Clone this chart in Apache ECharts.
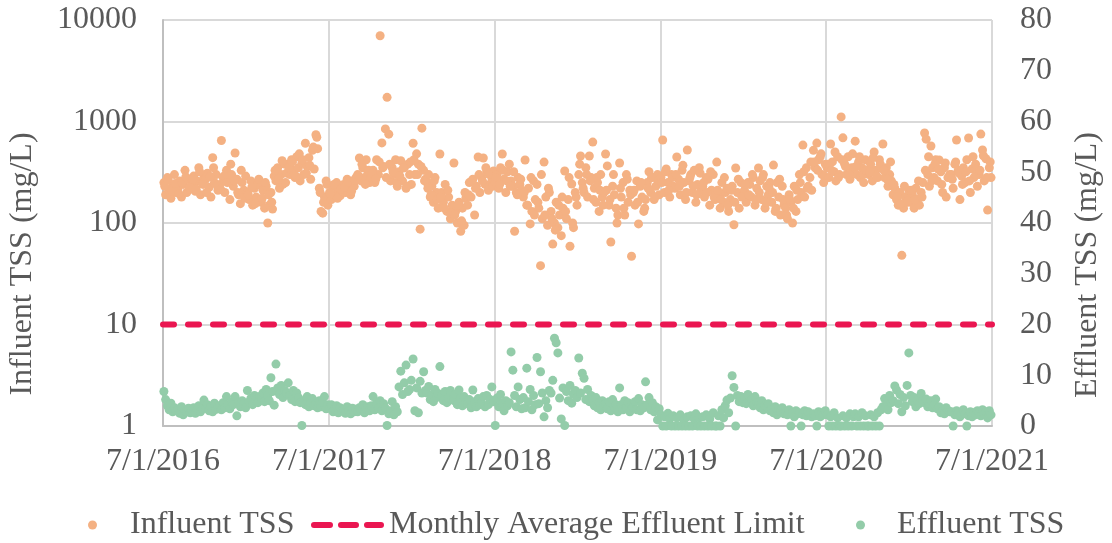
<!DOCTYPE html>
<html><head><meta charset="utf-8">
<script src="https://cdn.jsdelivr.net/npm/echarts@6/dist/echarts.min.js"></script>
<style>html,body{margin:0;padding:0;background:#fff}#c{width:1112px;height:543px}</style>
</head><body><div id="c"></div>
<script>
// ---------- tick labels ----------
const xTickLabels = ['7/1/2016','7/1/2017','7/1/2018','7/1/2019','7/1/2020','7/1/2021'];
const limitValue = 20; // mg/L (right axis)

// ---------- Influent TSS (mg/L), 8 readings per month, Jul..Jun ----------
const influent2016 = [
 250,190,280,210,175,230,300,200, 220,260,180,240,330,200,270,215,
 235,290,205,260,350,190,245,280, 270,310,225,180,440,250,300,210,
 240,650,280,200,330,260,170,300, 230,490,270,190,155,250,210,290,
 200,170,260,150,220,180,240,165, 160,210,140,230,100,150,200,137,
 290,260,350,220,300,240,380,310, 380,300,420,330,280,450,350,260,
 390,300,610,360,440,270,520,340, 740,540,220,130,125,180,260,150];
const influent2017 = [
 200,170,230,190,250,210,185,220, 240,200,270,215,190,260,230,280,
 300,437,260,350,280,420,320,250, 280,330,250,420,300,7000,615,360,
 845,1730,750,260,350,300,420,230, 320,410,260,350,220,380,300,240,
 610,300,480,380,87,860,330,270, 250,300,180,230,160,280,200,140,
 478,200,160,240,130,180,110,150, 390,130,100,160,83,140,95,176,
 150,250,180,270,120,230,447,200, 280,437,240,320,210,300,260,325];
const influent2018 = [
 250,300,220,350,478,270,200,320, 380,260,230,83,200,280,240,210,
 180,418,150,220,98,130,260,170, 240,140,38,110,398,180,95,200,
 130,62,100,160,90,120,75,140, 325,110,170,59,242,90,200,150,
 300,457,250,200,350,180,457,280, 627,220,160,250,130,300,180,200,
 478,365,150,65,230,190,140,120, 390,180,250,120,300,160,210,47,
 200,150,260,98,230,180,130,170, 250,320,200,280,170,230,300,190];
const influent2019 = [
 280,658,200,340,250,180,300,230, 220,447,270,190,330,250,170,524,
 260,300,200,330,160,240,350,210, 230,180,280,270,150,210,300,170,
 398,190,140,250,160,200,220,130, 170,230,96,348,200,140,250,190,
 210,160,250,240,180,280,150,220, 348,260,170,300,140,230,190,250,
 160,372,130,250,180,120,230,150, 140,110,190,160,100,230,130,170,
 300,200,586,180,350,230,280,210, 520,350,613,420,450,300,250,380];
const influent2020 = [
 350,280,600,400,320,260,450,300, 1110,690,380,300,450,270,350,330,
 640,300,400,280,350,250,420,310, 300,380,260,500,330,280,420,350,
 600,280,350,230,300,260,190,220, 170,150,200,48,140,180,160,210,
 160,190,140,220,170,150,200,250, 770,670,300,230,573,350,280,420,
 260,418,320,200,350,180,280,300, 300,220,380,658,330,170,290,350,
 250,420,688,200,340,280,380,230, 300,752,524,260,430,134,350,280];

// ---------- additional Influent TSS readings, 4 per month, Jul..Jun ----------
const influentB2016 = [230,265,205,245, 195,250,285,225, 270,215,320,240, 200,285,350,235,
 215,290,250,380, 260,200,330,175, 190,225,155,270, 175,250,190,160,
 330,270,410,250, 350,400,290,480, 420,310,370,560, 700,200,160,240];
const influentB2017 = [195,240,175,215, 225,255,205,265, 290,380,240,330, 310,270,400,350,
 280,380,320,250, 290,350,230,400, 420,300,360,260, 220,190,260,170,
 180,140,210,125, 120,150,105,200, 190,260,220,300, 260,350,300,230];
const influentB2018 = [280,240,330,260, 230,320,190,270, 200,150,280,120, 160,300,120,220,
 110,85,150,180, 130,280,100,180, 380,220,300,260, 170,280,210,150,
 210,170,300,100, 220,140,270,190, 210,160,250,140, 220,280,180,260];
const influentB2019 = [250,320,210,280, 300,230,370,200, 280,230,190,310, 250,200,320,180,
 210,170,280,150, 210,160,270,180, 240,190,300,170, 200,280,160,220,
 200,140,270,170, 120,170,140,210, 250,320,220,400, 400,330,480,290];
const influentB2020 = [380,330,500,280, 420,360,300,480, 360,450,300,330, 320,440,290,380,
 330,270,400,240, 180,155,230,165, 210,170,260,180, 330,450,260,380,
 340,240,390,280, 270,400,310,240, 320,260,450,300, 330,460,280,400];

// ---------- Effluent TSS (mg/L), 8 readings per month, Jul..Jun ----------
const effluent2016 = [
 6.8,5.2,4.0,3.2,4.5,2.8,3.6,3.0, 3.2,2.5,3.8,2.2,3.0,2.8,3.5,2.6,
 3.0,3.6,2.5,3.2,4.0,2.8,3.4,5.1, 3.5,4.2,3.0,3.8,2.8,4.5,3.3,3.9,
 4.0,3.2,4.6,3.6,5.8,4.2,3.4,4.8, 4.2,5.8,2.0,4.6,3.8,5.0,4.4,3.6,
 7.0,4.8,5.5,4.2,6.0,5.2,4.6,5.8, 5.5,6.5,4.8,7.2,6.0,5.0,9.5,6.8,
 4.1,12.2,7.5,6.2,8.0,5.6,7.0,6.4, 8.5,6.0,5.2,7.0,4.8,6.5,5.6,4.6,
 0.1,5.0,4.2,5.8,3.8,4.6,5.4,4.0, 4.4,3.6,5.0,3.8,4.6,5.8,3.4,4.2];
const effluent2017 = [
 3.5,4.2,2.8,3.3,4.0,2.6,3.6,3.0, 3.2,2.5,3.8,3.0,2.4,3.5,2.8,3.3,
 2.8,3.6,3.1,4.2,2.6,3.4,3.8,3.0, 4.0,5.8,3.2,4.6,3.5,5.0,3.0,4.4,
 3.5,0.1,2.4,3.0,4.8,2.2,3.8,2.8, 7.7,10.8,6.2,8.5,12.0,6.8,7.2,9.0,
 13.2,3.0,7.5,2.6,8.8,6.5,10.7,7.0, 6.5,7.8,5.2,6.0,4.8,7.2,5.6,6.4,
 11.7,6.0,5.0,6.8,4.6,5.5,7.0,5.2, 5.0,6.2,4.2,7.1,5.5,4.0,5.8,4.6,
 4.4,5.2,3.6,7.1,4.8,3.8,5.4,4.2, 4.6,5.8,3.8,6.0,4.2,5.2,7.7,4.8];
const effluent2018 = [
 0.1,5.5,3.8,6.2,4.5,3.0,5.0,4.0, 4.6,14.6,11.0,6.0,3.8,7.7,5.2,3.4,
 5.6,3.6,11.4,4.8,7.2,3.2,6.0,4.2, 13.5,4.4,10.7,6.5,1.8,5.0,3.6,7.0,
 6.5,9.0,17.3,16.4,14.4,5.5,1.4,7.5, 0.1,6.8,5.0,8.0,4.5,6.2,7.0,5.6,
 13.4,6.5,10.4,9.4,5.2,7.2,4.8,6.0, 5.2,4.0,5.6,3.6,4.6,3.2,5.0,4.2,
 4.4,3.4,4.8,3.0,5.2,3.8,4.2,2.8, 7.5,4.2,3.2,5.0,3.6,4.6,2.8,4.0,
 3.8,4.8,3.2,5.4,3.0,4.2,3.6,8.7, 4.2,5.6,3.2,4.6,2.8,3.8,1.2,3.4];
const effluent2019 = [
 2.2,0,1.8,0,2.5,1.4,0,2.0, 0,1.6,0,2.2,0,1.2,0,1.8,
 0,2.0,0,1.4,2.4,0,1.6,0, 1.8,0,2.2,0,1.4,0,2.6,0,
 0,2.0,0,3.2,1.6,4.0,5.1,2.6, 5.5,9.9,7.6,0,6.0,4.8,5.8,4.6,
 5.6,4.4,6.2,4.8,5.2,4.0,5.8,4.6, 4.2,3.6,5.0,3.2,4.0,3.8,4.4,3.0,
 3.4,2.6,3.8,2.2,3.0,2.8,3.6,2.4, 2.8,2.2,3.2,0,2.6,1.8,3.0,2.4,
 2.6,0,2.2,3.0,2.0,2.8,2.4,1.8, 2.4,2.0,0,2.8,1.8,2.6,2.2,3.0];
const effluent2020 = [
 2.2,0,1.8,0,2.6,0,1.6,0, 0,2.0,0,1.6,0,2.4,0,1.8,
 2.4,0,1.8,0,2.6,0,2.0,0, 0,2.2,0,1.8,0,2.6,0,3.2,
 3.8,5.4,4.2,3.2,6.0,4.6,5.0,7.9, 7.1,4.4,6.2,2.8,5.6,4.0,8.0,14.4,
 6.0,4.8,5.6,3.8,5.2,4.4,6.4,5.0, 4.6,5.3,3.8,4.4,5.0,3.6,4.2,5.3,
 3.4,3.8,2.6,3.2,2.4,3.6,3.0,2.8, 2.8,0,2.2,3.0,2.6,1.8,2.4,3.2,
 2.4,0,2.0,2.8,1.8,2.6,2.2,3.0, 2.6,2.0,3.2,2.4,2.8,1.6,3.0,2.2];

const fiscalStartYears = [2016,2017,2018,2019,2020];
const influentByYear = [influent2016,influent2017,influent2018,influent2019,influent2020];
const influentBByYear = [influentB2016,influentB2017,influentB2018,influentB2019,influentB2020];
const effluentByYear = [effluent2016,effluent2017,effluent2018,effluent2019,effluent2020];

// ---------- build points (x = years since 7/1/2016) ----------
const T0 = Date.UTC(2016,6,1), DAY = 86400000, YEAR = 365.25*DAY;
function toPoints(startYear, values){
  const per = values.length/12;
  return values.map(function(v,i){
    const m = Math.floor(i/per), k = i%per;
    const y = startYear + Math.floor((6+m)/12), mo = (6+m)%12;
    const dim = new Date(Date.UTC(y, mo+1, 0)).getUTCDate();
    const t = Date.UTC(y, mo, 1) + (k+0.5)*dim/per*DAY;
    return [(t-T0)/YEAR, v];
  });
}
let infPts = [], effPts = [];
fiscalStartYears.forEach(function(y,i){
  infPts = infPts.concat(toPoints(y, influentByYear[i]), toPoints(y, influentBByYear[i]));
  effPts = effPts.concat(toPoints(y, effluentByYear[i]));
});

const FONT = 'Liberation Serif', TXT = '#595959', FS = 32;
const dashIcon = 'path://M3,0H19A3,3 0 0 1 19,6H3A3,3 0 0 1 3,0Z M30,0H45A3,3 0 0 1 45,6H30A3,3 0 0 1 30,0Z M56,0H70A3,3 0 0 1 70,6H56A3,3 0 0 1 56,0Z';
const chart = echarts.init(document.getElementById('c'));
chart.setOption({
  animation:false,
  backgroundColor:'#fff',
  grid:{left:163,right:120,top:20,bottom:117,containLabel:false,outerBoundsMode:'none'},
  xAxis:{type:'value',min:0,max:xTickLabels.length-1,interval:1,
    axisLine:{show:true,lineStyle:{color:'#BFBFBF',width:2}},
    axisTick:{show:false},
    splitLine:{show:true,lineStyle:{color:'#D9D9D9',width:2}},
    axisLabel:{formatter:function(v){return xTickLabels[Math.round(v)];},margin:20,
      fontFamily:FONT,fontSize:FS,color:TXT,showMinLabel:true,showMaxLabel:true}},
  yAxis:[
    {type:'log',logBase:10,min:1,max:10000,position:'left',
     axisLine:{show:true,lineStyle:{color:'#BFBFBF',width:2}},
     axisTick:{show:false},
     splitLine:{show:true,lineStyle:{color:'#D9D9D9',width:2}},
     axisLabel:{margin:26,fontFamily:FONT,fontSize:FS,color:TXT,
       formatter:function(v){return String(Math.round(v));}}},
    {type:'value',min:0,max:80,interval:10,position:'right',
     axisLine:{show:false},axisTick:{show:false},splitLine:{show:false},
     axisLabel:{margin:28,fontFamily:FONT,fontSize:FS,color:TXT}}
  ],
  legend:[
    {data:['Influent TSS'],left:83,top:504,itemWidth:9,itemHeight:9,selectedMode:false,
     textStyle:{fontFamily:FONT,fontSize:FS,color:TXT,padding:[0,0,0,28]}},
    {data:[{name:'Monthly Average Effluent Limit',icon:dashIcon}],left:306,top:504,itemWidth:73,itemHeight:6,selectedMode:false,
     itemStyle:{color:'#EA1651'},
     textStyle:{fontFamily:FONT,fontSize:FS,color:TXT}},
    {data:['Effluent TSS'],left:851,top:504,itemWidth:9,itemHeight:9,selectedMode:false,
     textStyle:{fontFamily:FONT,fontSize:FS,color:TXT,padding:[0,0,0,27]}}
  ],
  graphic:[
    {type:'text',x:23,y:264,rotation:Math.PI/2,
     style:{text:'Influent TSS (mg/L)',font:'32px "'+FONT+'"',fill:TXT,align:'center',verticalAlign:'middle',textAlign:'center',textVerticalAlign:'middle'}},
    {type:'text',x:1088,y:265,rotation:Math.PI/2,
     style:{text:'Effluent TSS (mg/L)',font:'32px "'+FONT+'"',fill:TXT,align:'center',verticalAlign:'middle',textAlign:'center',textVerticalAlign:'middle'}}
  ],
  series:[
    {name:'Influent TSS',type:'scatter',yAxisIndex:0,data:infPts,symbolSize:9,
     itemStyle:{color:'#F4B183',opacity:1}},
    {name:'Monthly Average Effluent Limit',type:'line',yAxisIndex:1,symbol:'none',
     data:[[0,limitValue],[xTickLabels.length-1,limitValue]],
     lineStyle:{color:'#EA1651',width:6,type:[11,14],cap:'round'},itemStyle:{color:'#EA1651'}},
    {name:'Effluent TSS',type:'scatter',yAxisIndex:1,data:effPts,symbolSize:9,
     itemStyle:{color:'#93CCA9',opacity:1}}
  ]
});
</script></body></html>
